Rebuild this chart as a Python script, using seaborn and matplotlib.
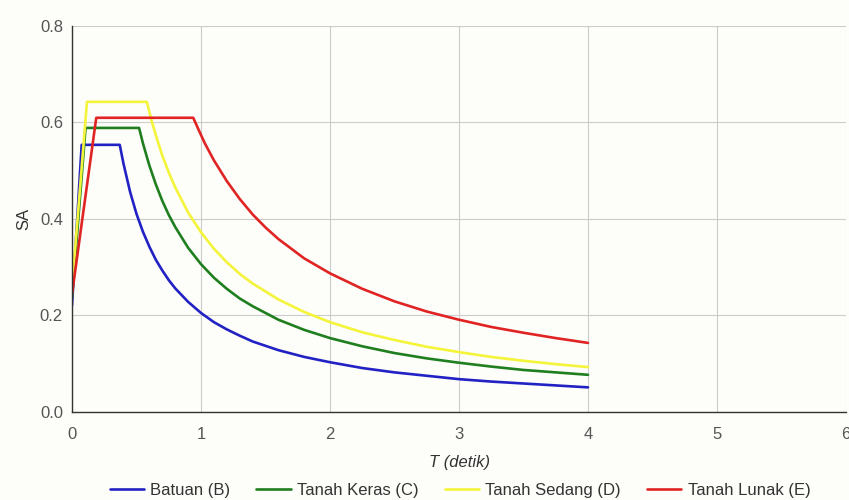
import numpy as np
import pandas as pd
import matplotlib
matplotlib.use("Agg")
import matplotlib.pyplot as plt
import seaborn as sns

# ---- data ----
series_names = ["Batuan (B)", "Tanah Keras (C)", "Tanah Sedang (D)", "Tanah Lunak (E)"]

t_b = [0, 0.075, 0.37, 0.40, 0.45, 0.50, 0.55, 0.60, 0.65, 0.70, 0.75, 0.80, 0.9, 1.0,
       1.1, 1.2, 1.3, 1.4, 1.6, 1.8, 2.0, 2.25, 2.5, 2.75, 3.0, 3.25, 3.5, 3.75, 4.0]
sa_b = [0.221, 0.553, 0.553, 0.513, 0.456, 0.41, 0.373, 0.342, 0.315, 0.293, 0.273,
        0.256, 0.228, 0.205, 0.186, 0.171, 0.158, 0.146, 0.128, 0.114, 0.103, 0.091,
        0.082, 0.075, 0.068, 0.063, 0.059, 0.055, 0.051]

t_c = [0, 0.105, 0.52, 0.55, 0.6, 0.65, 0.7, 0.75, 0.8, 0.9, 1.0, 1.1, 1.2, 1.3, 1.4,
       1.6, 1.8, 2.0, 2.25, 2.5, 2.75, 3.0, 3.25, 3.5, 3.75, 4.0]
sa_c = [0.235, 0.588, 0.588, 0.556, 0.51, 0.471, 0.437, 0.408, 0.383, 0.34, 0.306,
        0.278, 0.255, 0.235, 0.219, 0.191, 0.17, 0.153, 0.136, 0.122, 0.111, 0.102,
        0.094, 0.087, 0.082, 0.077]

t_d = [0, 0.116, 0.58, 0.62, 0.66, 0.7, 0.75, 0.8, 0.9, 1.0, 1.1, 1.2, 1.3, 1.4, 1.6,
       1.8, 2.0, 2.25, 2.5, 2.75, 3.0, 3.25, 3.5, 3.75, 4.0]
sa_d = [0.257, 0.642, 0.642, 0.6, 0.564, 0.531, 0.496, 0.465, 0.413, 0.372, 0.338,
        0.31, 0.286, 0.266, 0.233, 0.207, 0.186, 0.165, 0.149, 0.135, 0.124, 0.114,
        0.106, 0.099, 0.093]

t_e = [0, 0.188, 0.94, 0.98, 1.03, 1.1, 1.2, 1.3, 1.4, 1.5, 1.6, 1.8, 2.0, 2.25, 2.5,
       2.75, 3.0, 3.25, 3.5, 3.75, 4.0]
sa_e = [0.244, 0.609, 0.609, 0.585, 0.556, 0.521, 0.478, 0.441, 0.409, 0.382, 0.358,
        0.318, 0.287, 0.255, 0.229, 0.208, 0.191, 0.176, 0.164, 0.153, 0.143]

x_ticks = [0, 1, 2, 3, 4, 5, 6]
y_ticks = [0.0, 0.2, 0.4, 0.6, 0.8]
colors = ["#2222c4", "#1f7f1f", "#f4f43a", "#e02424"]

frames = []
for name, t, sa in zip(series_names, [t_b, t_c, t_d, t_e], [sa_b, sa_c, sa_d, sa_e]):
    frames.append(pd.DataFrame({"T": t, "SA": sa, "Tanah": name}))
df = pd.concat(frames, ignore_index=True)

# ---- figure ----
sns.set_style("white")
plt.rcParams["font.family"] = ["Liberation Sans", "DejaVu Sans"]
bg = "#fdfdf9"
fs = 12
fig = plt.figure(figsize=(8.49, 5.0), dpi=100, facecolor=bg)
ax = fig.add_axes([72 / 849, 1 - 412 / 500, (846 - 72) / 849, (412 - 25.5) / 500])
ax.set_facecolor(bg)

sns.lineplot(data=df, x="T", y="SA", hue="Tanah", hue_order=series_names,
             palette=dict(zip(series_names, colors)), linewidth=1.9,
             estimator=None, sort=False, ax=ax, legend=True)

ax.set_xlim(0, 6)
ax.set_ylim(0, 0.8)
ax.set_xticks(x_ticks)
ax.set_xticklabels([str(v) for v in x_ticks])
ax.set_yticks(y_ticks)
ax.set_yticklabels([f"{v:.1f}" for v in y_ticks])
ax.grid(True, color="#cccccc", linewidth=0.8)
ax.set_axisbelow(True)
for side in ["top", "right"]:
    ax.spines[side].set_visible(False)
for side in ["left", "bottom"]:
    ax.spines[side].set_color("#333333")
    ax.spines[side].set_linewidth(1.0)
ax.tick_params(axis="both", length=0, labelsize=fs, labelcolor="#555555")
ax.tick_params(axis="x", pad=10.5)
ax.tick_params(axis="y", pad=6.5)

ax.set_xlabel("T (detik)", fontsize=fs, color="#333333", style="italic", labelpad=9.5)
ax.set_ylabel("SA", fontsize=fs, color="#333333", labelpad=6)

handles, labels = ax.get_legend_handles_labels()
ax.get_legend().remove()
fig.legend(handles, labels, loc="center", bbox_to_anchor=(460 / 849, 1 - 490 / 500),
           ncol=4, frameon=False, fontsize=fs, handlelength=2.06, columnspacing=1.56,
           handletextpad=0.38, labelcolor="#333333")

fig.savefig("out.png", dpi=100, facecolor=bg)
